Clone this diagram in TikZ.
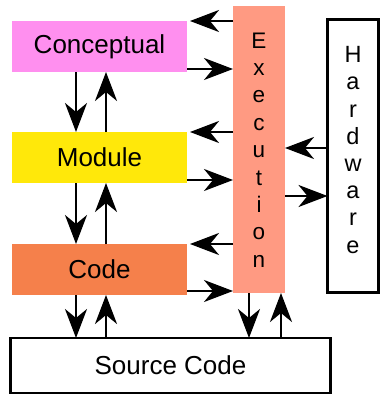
\documentclass[tikz,border=0pt]{standalone}
\usepackage{fontspec}
\setmainfont{Liberation Sans}
\usetikzlibrary{arrows.meta}
\definecolor{cpink}{HTML}{FF8FEF}
\definecolor{cyellow}{HTML}{FFE80A}
\definecolor{corange}{HTML}{F5804B}
\definecolor{csalmon}{HTML}{FF9A82}
\begin{document}
\begin{tikzpicture}[x=1pt,y=-1pt,
  lvl/.style={inner sep=0pt,outer sep=0pt,minimum width=175pt,minimum height=51pt,font=\fontsize{26}{30}\selectfont},
  vbox/.style={inner sep=0pt,outer sep=0pt,align=center},
  arr/.style={line width=2.5pt,-{Stealth[length=29pt,width=22pt,inset=9pt]}},
  frame/.style={draw,line width=2.5pt}]
\useasboundingbox (0,0) rectangle (381,394);
\node[lvl,fill=cpink] (concept) at (99.5,46.5) {Conceptual};
\node[lvl,fill=cyellow] (module) at (99.5,157.5) {Module};
\node[lvl,fill=corange] (code) at (99.5,269.5) {Code};
\fill[csalmon] (233,6) rectangle (285,293);
\node[inner sep=0pt,outer sep=0pt,minimum width=52pt,minimum height=287pt] (exec) at (259,149.5) {};
\node[vbox,font=\fontsize{22.5}{27.4}\selectfont] (exectext) at (259,150) {E\\x\\e\\c\\u\\t\\i\\o\\n};
\node[frame,inner sep=0pt,outer sep=0pt,minimum width=51pt,minimum height=273pt] (hw) at (353,156) {};
\node[vbox,font=\fontsize{23.5}{27.2}\selectfont] (hwtext) at (353,150) {H\\a\\r\\d\\w\\a\\r\\e};
\node[frame,inner sep=0pt,outer sep=0pt,minimum width=320pt,minimum height=55pt,font=\fontsize{26}{30}\selectfont] (src) at (170.5,365.5) {Source Code};
\coordinate (xa) at (76,0);
\coordinate (xb) at (106,0);
\coordinate (xc) at (249,0);
\coordinate (xd) at (281,0);
\coordinate (y1) at (0,21);
\coordinate (y2) at (0,69);
\coordinate (y3) at (0,132);
\coordinate (y4) at (0,180);
\coordinate (y5) at (0,244);
\coordinate (y6) at (0,291);
\coordinate (y7) at (0,148);
\coordinate (y8) at (0,196);
% vertical arrows
\draw[arr] (concept.south -| xa) -- (module.north -| xa);
\draw[arr] (module.north -| xb) -- (concept.south -| xb);
\draw[arr] (module.south -| xa) -- (code.north -| xa);
\draw[arr] (code.north -| xb) -- (module.south -| xb);
\draw[arr] (code.south -| xa) -- (src.north -| xa);
\draw[arr] (src.north -| xb) -- (code.south -| xb);
\draw[arr] (exec.south -| xc) -- (src.north -| xc);
\draw[arr] (src.north -| xd) -- (exec.south -| xd);
% horizontal arrows
\draw[arr] (exec.west |- y1) -- ([xshift=3pt]concept.east |- y1);
\draw[arr] (concept.east |- y2) -- (exec.west |- y2);
\draw[arr] (exec.west |- y3) -- ([xshift=3pt]module.east |- y3);
\draw[arr] (module.east |- y4) -- (exec.west |- y4);
\draw[arr] (exec.west |- y5) -- ([xshift=3pt]code.east |- y5);
\draw[arr] (code.east |- y6) -- (exec.west |- y6);
\draw[arr] (hw.west |- y7) -- (exec.east |- y7);
\draw[arr] (exec.east |- y8) -- (hw.west |- y8);
\end{tikzpicture}
\end{document}
